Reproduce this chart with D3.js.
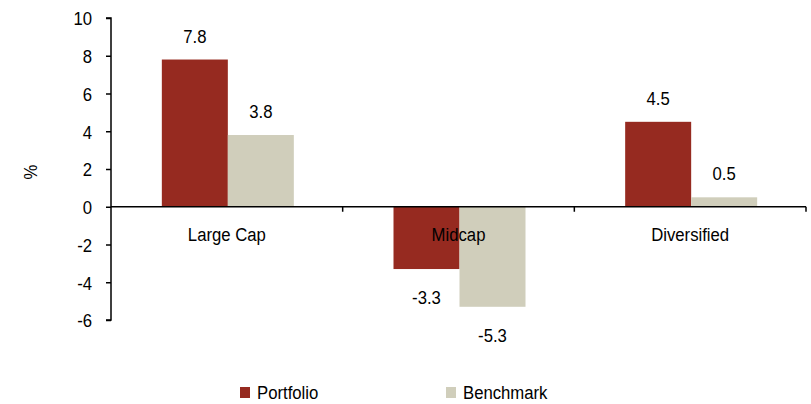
<!DOCTYPE html>
<html>
<head>
<meta charset="utf-8">
<script src="https://cdn.jsdelivr.net/npm/d3@7"></script>
<style>
  body { margin: 0; background: #fff; }
  svg text { font-family: "Liberation Sans", Arial, sans-serif; fill: #000; font-size: 19px; }
</style>
</head>
<body>
<svg width="811" height="404"></svg>
<script>
var categories = ["Large Cap", "Midcap", "Diversified"];
var seriesNames = ["Portfolio", "Benchmark"];
var portfolio = [7.8, -3.3, 4.5];
var benchmark = [3.8, -5.3, 0.5];
var yTicks = [-6, -4, -2, 0, 2, 4, 6, 8, 10];
var colors = ["#962a20", "#d0cebb"];

var svg = d3.select("svg");
var margin = {left: 111, right: 5, top: 18, bottom: 84};
var width = 811 - margin.left - margin.right,
    height = 404 - margin.top - margin.bottom;

// squeeze text horizontally to look like a narrow face
function condense(sel) {
  sel.each(function() {
    var t = d3.select(this);
    var tx = +t.attr("x") || 0, ty = +t.attr("y") || 0;
    t.attr("x", 0).attr("y", 0)
     .attr("transform", "translate(" + tx + "," + ty + ") scale(0.88,1)");
  });
}

var g = svg.append("g")
    .attr("transform", "translate(" + margin.left + "," + margin.top + ")");

var x = d3.scaleBand().domain(categories).range([0, width]);
var x1 = d3.scaleBand().domain(seriesNames).range([0, 132]);
var y = d3.scaleLinear().domain([-6, 10]).range([height, 0]);

var fmt = function(v) { return v.toFixed(1); };

var rows = categories.map(function(c, i) {
  return {cat: c, vals: [portfolio[i], benchmark[i]]};
});

var groups = g.selectAll(".grp").data(rows).enter().append("g")
    .attr("class", "grp")
    .attr("transform", function(d) { return "translate(" + (x(d.cat) + x.bandwidth() / 2 - 65) + ",0)"; });

groups.selectAll("rect").data(function(d) {
    return d.vals.map(function(v, j) { return {v: v, s: seriesNames[j], j: j}; });
  }).enter().append("rect")
    .attr("x", function(d) { return x1(d.s); })
    .attr("width", x1.bandwidth())
    .attr("y", function(d) { return y(Math.max(0, d.v)); })
    .attr("height", function(d) { return Math.abs(y(d.v) - y(0)); })
    .attr("fill", function(d) { return colors[d.j]; });

groups.selectAll("text.val").data(function(d) {
    return d.vals.map(function(v, j) { return {v: v, s: seriesNames[j]}; });
  }).enter().append("text")
    .attr("class", "val")
    .attr("x", function(d) { return x1(d.s) + x1.bandwidth() / 2; })
    .attr("y", function(d) { return d.v >= 0 ? y(d.v) - 17 : y(d.v) + 35; })
    .attr("text-anchor", "middle")
    .text(function(d) { return fmt(d.v); })
    .call(condense);

// y axis
var yAxis = g.append("g")
    .call(d3.axisLeft(y).tickValues(yTicks).tickSize(5).tickPadding(14).tickFormat(function(d) { return String(d); }));
yAxis.attr("font-family", null).attr("font-size", null);
yAxis.selectAll("text").attr("dy", "0.36em").call(condense);
yAxis.selectAll("line, path").attr("stroke", "#000").attr("stroke-width", 1.5);
yAxis.select(".domain").attr("d", "M-5," + y(-6) + "H0V" + y(10) + "H-5");

// x axis at zero
var xa = g.append("g").attr("transform", "translate(0," + y(0) + ")");
xa.append("line").attr("x1", 0).attr("x2", width).attr("stroke", "#000").attr("stroke-width", 1.5);
xa.selectAll("line.tk").data(categories).enter().append("line")
    .attr("class", "tk")
    .attr("x1", function(d) { return x(d) + x.bandwidth(); })
    .attr("x2", function(d) { return x(d) + x.bandwidth(); })
    .attr("y1", 0).attr("y2", 5)
    .attr("stroke", "#000").attr("stroke-width", 1.5);
xa.selectAll("text").data(categories).enter().append("text")
    .attr("x", function(d) { return x(d) + x.bandwidth() / 2; })
    .attr("y", 34)
    .attr("text-anchor", "middle")
    .text(function(d) { return d; })
    .call(condense);

// y label
svg.append("text")
    .attr("transform", "translate(37,172) rotate(-90) scale(0.88,1)")
    .attr("text-anchor", "middle")
    .text("%");

// legend
var legX = [240, 446];
var leg = svg.selectAll(".leg").data(seriesNames).enter().append("g")
    .attr("class", "leg")
    .attr("transform", function(d, i) { return "translate(" + legX[i] + ",387)"; });
leg.append("rect").attr("width", 10).attr("height", 11)
    .attr("fill", function(d, i) { return colors[i]; });
leg.append("text").attr("x", 17).attr("y", 12)
    .text(function(d) { return d; })
    .call(condense);
</script>
</body>
</html>
